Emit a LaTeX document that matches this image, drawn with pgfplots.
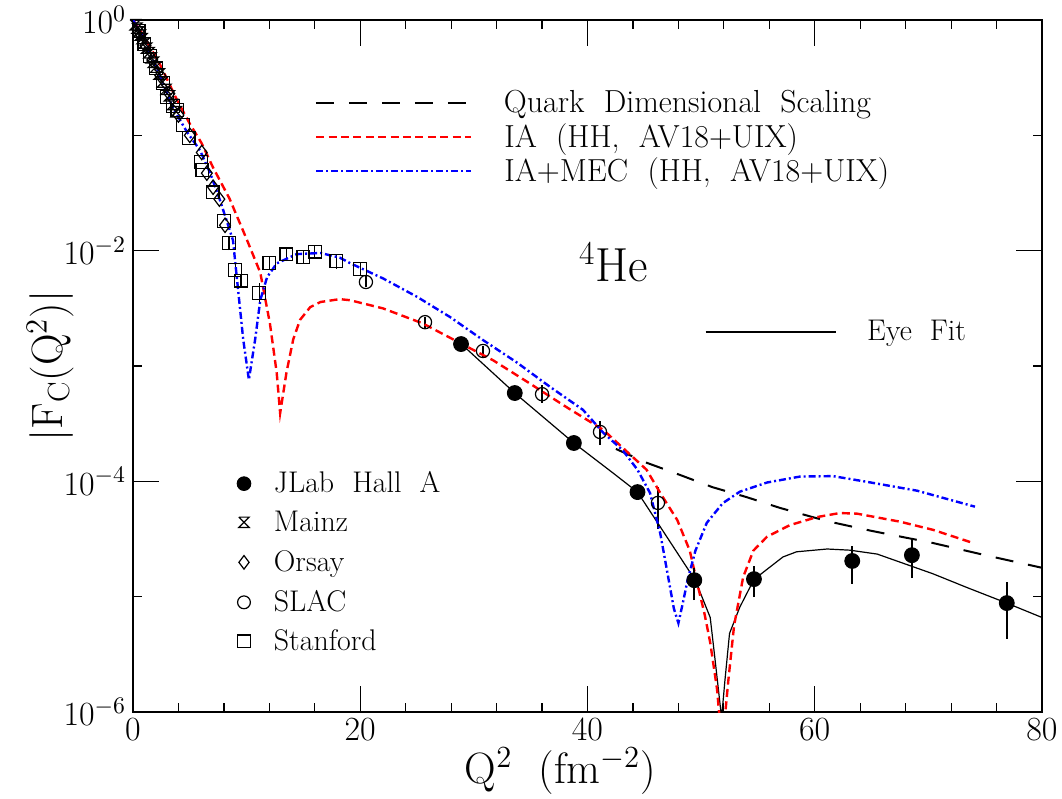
\RequirePackage{fix-cm}
\documentclass[border=0pt]{standalone}
\usepackage{fontspec}
\usepackage{pgfplots}
\pgfplotsset{compat=1.18}
\pgfdeclareplotmark{mainz}{%
 \pgfpathmoveto{\pgfqpoint{-\pgfplotmarksize}{\pgfplotmarksize}}%
 \pgfpathlineto{\pgfqpoint{\pgfplotmarksize}{\pgfplotmarksize}}%
 \pgfpathlineto{\pgfqpoint{-\pgfplotmarksize}{-\pgfplotmarksize}}%
 \pgfpathlineto{\pgfqpoint{\pgfplotmarksize}{-\pgfplotmarksize}}%
 \pgfpathlineto{\pgfqpoint{-\pgfplotmarksize}{\pgfplotmarksize}}%
 \pgfusepathqstroke}
\begin{document}
\begin{tikzpicture}
% ---------- main axis ----------
\begin{axis}[width=454.5bp, height=346bp, scale only axis,
  xmin=0, xmax=80, ymin=1e-6, ymax=1, ymode=log,
  axis line style={line width=0.8bp}, every tick/.style={black, line width=0.6bp},
  tick align=inside, major tick length=13bp, minor tick length=4.5bp,
  xtick={0,20,40,60,80}, minor x tick num=4,
  ytick={1,1e-2,1e-4,1e-6}, minor ytick={1e-1,1e-3,1e-5},
  tick label style={font=\fontsize{17}{19}\selectfont},
  xlabel={Q$^{2}$\ \ (fm$^{-2}$)},
  xlabel style={font=\fontsize{22}{26}\selectfont, at={(axis description cs:0.47,-0.086)}, anchor=center},
  ylabel={$|\mathrm{F}_{\mathrm{C}}(\mathrm{Q}^{2})|$},
  ylabel style={font=\fontsize{22}{26}\selectfont, at={(axis description cs:-0.091,0.5)}, anchor=center},
]
% data
\addplot[only marks, mark=mainz, mark size=2.6bp, black, line width=0.6bp]
 coordinates {(0.2,0.91) (0.35,0.85) (0.5,0.79) (0.65,0.74) (0.8,0.69) (1.0,0.63) (1.2,0.57)
 (1.4,0.52) (1.6,0.47) (1.8,0.43) (2.0,0.39) (2.3,0.34) (2.6,0.29) (2.9,0.25) (3.2,0.22)
 (3.5,0.185) (3.8,0.16)};
\addplot[only marks, mark=diamond, mark size=3.6bp, black, line width=0.6bp]
 coordinates {(0.6,0.77) (1.1,0.6) (1.7,0.45) (2.4,0.33) (3.2,0.23) (4.0,0.15) (5.0,0.1)
 (6.05,0.071) (6.5,0.047) (7.05,0.0355) (7.6,0.028) (8.1,0.0166)};
\addplot[only marks, mark=o, mark size=3.3bp, black, line width=0.6bp]
 coordinates {(20.5,5.35e-3) (25.7,2.4e-3) (30.8,1.35e-3) (36.0,5.7e-4) (41.1,2.68e-4) (46.2,6.5e-5)};
\addplot[only marks, mark=square, mark size=3.2bp, black, line width=0.6bp]
 coordinates {(0.5,0.80) (1.0,0.62) (1.5,0.49) (2.0,0.38) (2.65,0.285) (3.0,0.215) (3.5,0.18)
 (3.9,0.166) (4.4,0.123) (4.9,0.095) (6.0,0.059) (6.1,0.05) (7.0,0.032) (8.0,0.018)
 (8.45,0.0116) (9.0,6.8e-3) (9.5,5.5e-3) (11.1,4.3e-3) (12.0,7.8e-3) (13.5,9.3e-3)
 (15.0,8.8e-3) (16.0,9.8e-3) (17.9,8.1e-3) (20.0,6.9e-3)};
\addplot[black, line width=0.6bp, unbounded coords=jump]
 coordinates {(20.5,4.8e-3) (20.5,6.0e-3) (20.5,nan)
 (25.7,2.15e-3) (25.7,2.65e-3) (25.7,nan)
 (30.8,1.2e-3) (30.8,1.5e-3) (30.8,nan)
 (36.0,4.8e-4) (36.0,6.8e-4) (36.0,nan)
 (41.1,2.06e-4) (41.1,3.33e-4) (41.1,nan)
 (46.2,3.9e-5) (46.2,8.9e-5) (46.2,nan)
 (8.45,0.0101) (8.45,0.0133) (8.45,nan)
 (9.0,5.9e-3) (9.0,7.8e-3) (9.0,nan)
 (9.5,4.8e-3) (9.5,6.3e-3) (9.5,nan)
 (11.1,3.6e-3) (11.1,5.2e-3) (11.1,nan)
 (12.0,6.8e-3) (12.0,9.0e-3) (12.0,nan)
 (13.5,8.1e-3) (13.5,1.07e-2) (13.5,nan)
 (15.0,7.7e-3) (15.0,1.01e-2) (15.0,nan)
 (16.0,8.5e-3) (16.0,1.13e-2) (16.0,nan)
 (17.9,7.0e-3) (17.9,9.3e-3) (17.9,nan)
 (20.0,6.0e-3) (20.0,7.9e-3)};
% eye fit
\addplot[black, line width=0.6bp] coordinates {(28.9,1.55e-3) (33.6,5.83e-4) (38.8,2.15e-4)
 (42.3,1.17e-4) (44.4,8.07e-5) (47.0,3.28e-5) (47.9,2.40e-5) (49.5,1.38e-5) (50.8,6.6e-6)
 (51.2,3.0e-6) (51.8,8.9e-7) (52.1,1.9e-6) (52.5,4.8e-6) (53.4,8.1e-6) (54.65,1.41e-5)
 (57.2,2.21e-5) (58.4,2.45e-5) (61.1,2.59e-5) (63.1,2.53e-5) (65.5,2.34e-5) (70.4,1.58e-5)
 (73.4,1.20e-5) (76.9,8.8e-6) (80,6.6e-6)};
% theory curves
\addplot[black, line width=1bp, dash pattern=on 9bp off 7.5bp] coordinates {(42.5,1.91e-4)
 (45.2,1.45e-4) (48.1,1.14e-4) (51.0,8.9e-5) (54.0,7.3e-5) (56.9,5.9e-5) (59.8,4.9e-5)
 (61.3,4.47e-5) (65,3.72e-5) (70.4,2.92e-5) (75,2.29e-5) (80,1.78e-5)};
\addplot[red, line width=1.2bp, dash pattern=on 4bp off 2.2bp] coordinates {(0,1) (0.9,0.741)
 (2.4,0.407) (3.9,0.200) (5.0,0.126) (6.05,0.0851) (7.05,0.0525) (8.5,0.0282) (10.0,0.0126)
 (11.2,6.46e-3) (12.05,2.34e-3) (12.65,8.7e-4) (12.95,3.9e-4) (13.5,8.7e-4) (14.1,1.70e-3)
 (14.7,2.51e-3) (15.6,3.24e-3) (16.5,3.59e-3) (18.2,3.80e-3) (19.1,3.72e-3) (22.0,3.16e-3)
 (25.5,2.34e-3) (28.8,1.58e-3) (31.7,1.12e-3) (34.9,7.08e-4) (38.2,4.37e-4) (41.4,2.79e-4)
 (44.0,1.62e-4) (45.2,1.26e-4) (46.4,7.94e-5) (47.9,4.62e-5) (49.0,2.51e-5) (49.6,1.38e-5)
 (50.3,7.1e-6) (50.8,4.0e-6) (51.4,1.58e-6) (51.85,5e-7) (52.4,1.9e-6) (52.9,5.6e-6)
 (53.7,1.48e-5) (54.6,2.51e-5) (55.8,3.31e-5) (57.8,4.17e-5) (60.2,4.9e-5) (62.2,5.31e-5)
 (63.7,5.25e-5) (67.5,4.47e-5) (70.4,3.80e-5) (73.8,2.95e-5)};
\addplot[blue, line width=1.2bp, dash pattern=on 3.5bp off 1.5bp on 1bp off 1.5bp] coordinates {(0,1)
 (0.8,0.741) (2.1,0.380) (3.5,0.174) (4.75,0.107) (5.9,0.0741) (6.8,0.0468) (7.65,0.0275)
 (8.8,0.0123) (9.25,4.57e-3) (9.7,1.70e-3) (10.2,7.6e-4) (10.75,1.70e-3) (11.2,3.72e-3)
 (11.8,5.89e-3) (12.65,7.76e-3) (14.4,9.33e-3) (16.5,9.55e-3) (18.2,8.7e-3) (19.1,7.8e-3)
 (22.0,5.75e-3) (25.0,3.98e-3) (27.9,2.66e-3) (30.8,1.68e-3) (33.8,1.07e-3) (36.7,6.6e-4)
 (39.6,4.17e-4) (41.4,2.63e-4) (43.1,1.86e-4) (44.4,1.26e-4) (45.5,7.94e-5) (46.4,3.55e-5)
 (47.1,1.48e-5) (47.6,7.9e-6) (48.0,5.9e-6) (48.4,8.9e-6) (48.8,1.38e-5) (49.5,2.51e-5)
 (50.5,4.37e-5) (51.9,6.46e-5) (53.4,8.13e-5) (55.8,9.77e-5) (58.7,1.10e-4) (61.6,1.11e-4)
 (64.6,9.9e-5) (69.0,8.3e-5) (74.1,6.03e-5)};
% JLab on top
\addplot[black, line width=1.1bp, unbounded coords=jump]
 coordinates {(44.4,6.9e-5) (44.4,9.3e-5) (44.4,nan)
 (49.4,9.35e-6) (49.4,1.77e-5) (49.4,nan)
 (54.65,9.9e-6) (54.65,1.85e-5) (54.65,nan)
 (63.3,1.29e-5) (63.3,2.75e-5) (63.3,nan)
 (68.55,1.45e-5) (68.55,3.16e-5) (68.55,nan)
 (76.9,4.3e-6) (76.9,1.34e-5)};
\addplot[only marks, mark=*, mark size=3.7bp, black, mark options={fill=black, line width=0.5bp}]
 coordinates {(28.87,1.55e-3) (33.6,5.83e-4) (38.8,2.15e-4) (44.4,8.07e-5) (49.4,1.39e-5)
 (54.65,1.42e-5) (63.3,2.04e-5) (68.55,2.29e-5) (76.9,8.8e-6)};
\node[font=\fontsize{24}{28}\selectfont] at (axis cs:42.3,8.0e-3) {\textsuperscript{4}He};
\coordinate (sw) at (rel axis cs:0,0);
\coordinate (ne) at (rel axis cs:1,1);
\end{axis}
% ---------- legend rows: curves ----------
\begin{axis}[width=454.5bp, height=346bp, scale only axis,
  xmin=0, xmax=80, ymin=1e-6, ymax=1, ymode=log, hide axis,
  legend style={at={(rel axis cs:0.2002,0.8801)}, anchor=west, draw=none, fill=none,
    inner sep=0pt, outer sep=0pt, column sep=14bp, font=\fontsize{16}{19}\selectfont},
  legend image code/.code={\draw[#1] (0bp,0bp) -- (77.5bp,0bp);}]
\addlegendimage{black, line width=1bp, dash pattern=on 9bp off 7.5bp}
\addlegendentry{Quark\ \ Dimensional\ \ Scaling}
\end{axis}
\begin{axis}[width=454.5bp, height=346bp, scale only axis,
  xmin=0, xmax=80, ymin=1e-6, ymax=1, ymode=log, hide axis,
  legend style={at={(rel axis cs:0.2002,0.8309)}, anchor=west, draw=none, fill=none,
    inner sep=0pt, outer sep=0pt, column sep=14bp, font=\fontsize{16}{19}\selectfont},
  legend image code/.code={\draw[#1] (0bp,0bp) -- (77.5bp,0bp);}]
\addlegendimage{red, line width=1.2bp, dash pattern=on 4bp off 2.2bp}
\addlegendentry{IA\ \ (HH,\ \ AV18+UIX)}
\end{axis}
\begin{axis}[width=454.5bp, height=346bp, scale only axis,
  xmin=0, xmax=80, ymin=1e-6, ymax=1, ymode=log, hide axis,
  legend style={at={(rel axis cs:0.2002,0.7818)}, anchor=west, draw=none, fill=none,
    inner sep=0pt, outer sep=0pt, column sep=14bp, font=\fontsize{16}{19}\selectfont},
  legend image code/.code={\draw[#1] (0bp,0bp) -- (77.5bp,0bp);}]
\addlegendimage{blue, line width=1.2bp, dash pattern=on 3.5bp off 1.5bp on 1bp off 1.5bp}
\addlegendentry{IA+MEC\ \ (HH,\ \ AV18+UIX)}
\end{axis}
% ---------- legend row: eye fit ----------
\begin{axis}[width=454.5bp, height=346bp, scale only axis,
  xmin=0, xmax=80, ymin=1e-6, ymax=1, ymode=log, hide axis,
  legend style={at={(rel axis cs:0.6293,0.5491)}, anchor=west, draw=none, fill=none,
    inner sep=0pt, outer sep=0pt, column sep=13.5bp, font=\fontsize{15}{18}\selectfont},
  legend image code/.code={\draw[#1] (0bp,0bp) -- (65bp,0bp);}]
\addlegendimage{black, line width=0.6bp}
\addlegendentry{Eye\ \ Fit}
\end{axis}
% ---------- legend rows: data ----------
\begin{axis}[width=454.5bp, height=346bp, scale only axis,
  xmin=0, xmax=80, ymin=1e-6, ymax=1, ymode=log, hide axis,
  legend style={at={(rel axis cs:0.1133,0.3300)}, anchor=west, draw=none, fill=none,
    inner sep=0pt, outer sep=0pt, column sep=9bp, font=\fontsize{15}{18}\selectfont},
  legend image code/.code={\path[draw=none,fill=none] (-4bp,0bp) (4bp,0bp); \draw[#1] plot coordinates {(0bp,0bp)};}]
\addlegendimage{only marks, mark=*, mark size=3.4bp, black, mark options={fill=black, line width=0.5bp}}
\addlegendentry{JLab\ \ Hall\ \ A}
\end{axis}
\begin{axis}[width=454.5bp, height=346bp, scale only axis,
  xmin=0, xmax=80, ymin=1e-6, ymax=1, ymode=log, hide axis,
  legend style={at={(rel axis cs:0.1133,0.2741)}, anchor=west, draw=none, fill=none,
    inner sep=0pt, outer sep=0pt, column sep=9bp, font=\fontsize{15}{18}\selectfont},
  legend image code/.code={\path[draw=none,fill=none] (-4bp,0bp) (4bp,0bp); \draw[#1] plot coordinates {(0bp,0bp)};}]
\addlegendimage{only marks, mark=mainz, mark size=2.6bp, black, line width=0.6bp}
\addlegendentry{Mainz}
\end{axis}
\begin{axis}[width=454.5bp, height=346bp, scale only axis,
  xmin=0, xmax=80, ymin=1e-6, ymax=1, ymode=log, hide axis,
  legend style={at={(rel axis cs:0.1133,0.2163)}, anchor=west, draw=none, fill=none,
    inner sep=0pt, outer sep=0pt, column sep=9bp, font=\fontsize{15}{18}\selectfont},
  legend image code/.code={\path[draw=none,fill=none] (-4bp,0bp) (4bp,0bp); \draw[#1] plot coordinates {(0bp,0bp)};}]
\addlegendimage{only marks, mark=diamond, mark size=3.4bp, black, line width=0.6bp}
\addlegendentry{Orsay}
\end{axis}
\begin{axis}[width=454.5bp, height=346bp, scale only axis,
  xmin=0, xmax=80, ymin=1e-6, ymax=1, ymode=log, hide axis,
  legend style={at={(rel axis cs:0.1133,0.1585)}, anchor=west, draw=none, fill=none,
    inner sep=0pt, outer sep=0pt, column sep=9bp, font=\fontsize{15}{18}\selectfont},
  legend image code/.code={\path[draw=none,fill=none] (-4bp,0bp) (4bp,0bp); \draw[#1] plot coordinates {(0bp,0bp)};}]
\addlegendimage{only marks, mark=o, mark size=3.2bp, black, line width=0.6bp}
\addlegendentry{SLAC}
\end{axis}
\begin{axis}[width=454.5bp, height=346bp, scale only axis,
  xmin=0, xmax=80, ymin=1e-6, ymax=1, ymode=log, hide axis,
  legend style={at={(rel axis cs:0.1133,0.1022)}, anchor=west, draw=none, fill=none,
    inner sep=0pt, outer sep=0pt, column sep=9bp, font=\fontsize{15}{18}\selectfont},
  legend image code/.code={\path[draw=none,fill=none] (-4bp,0bp) (4bp,0bp); \draw[#1] plot coordinates {(0bp,0bp)};}]
\addlegendimage{only marks, mark=square, mark size=3.1bp, black, line width=0.6bp}
\addlegendentry{Stanford}
\end{axis}
\pgfresetboundingbox
\path ([shift={(-66.5bp,-43.5bp)}]sw) rectangle ([shift={(10bp,10bp)}]ne);
\end{tikzpicture}
\end{document}
